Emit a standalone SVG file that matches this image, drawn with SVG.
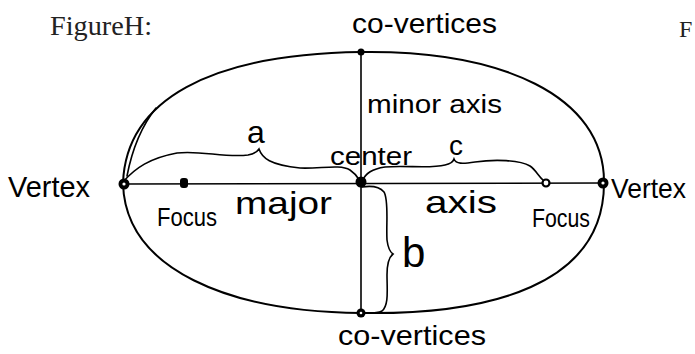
<svg xmlns="http://www.w3.org/2000/svg" width="695" height="354" viewBox="0 0 695 354">
<style>
.hw{font-family:"Liberation Sans","DejaVu Sans",sans-serif;fill:#000}
.ln{fill:none;stroke:#000;stroke-width:2;stroke-linecap:round;stroke-linejoin:round}
.thin{fill:none;stroke:#000;stroke-width:1.6;stroke-linecap:round}
.dot{fill:#000}
.hole{fill:#fff}
.fig{font-family:"Liberation Serif","DejaVu Serif",serif;fill:#222}
</style>
<rect width="695" height="354" fill="#fff"/>
<text class="fig" x="50" y="35" font-size="27" textLength="102" lengthAdjust="spacingAndGlyphs">FigureH:</text>
<text class="fig" x="679" y="37" font-size="24">F</text>
<g id="ellipse">
<path class="ln" d="M123,183 C126,100 210,54 361,52 C500,50 605,95 604,183 C604,285 490,315 361,313 C230,312 125,270 123,183"/>
<path class="thin" d="M127,176 C132,150 140,128 156,108"/>
</g>
<g id="connectors">
<line class="thin" x1="123" y1="184" x2="604" y2="183"/>
<line class="thin" x1="361" y1="52" x2="361" y2="313"/>
<path id="brace-a" class="thin" d="M123,182 C135,168 150,158 177,153 C200,150 225,158 248,155 C254,154 257,152 259,149 C262,158 270,165 300,168 C320,169 340,164 350,170 C356,174 358,178 360,181"/>
<path id="brace-c" class="thin" d="M362,181 C366,173 372,169 385,167 C405,165 430,169 445,165 C450,164 453,162 454,159 C456,164 462,164 475,162 C495,159 520,160 530,166 C536,170 538,176 544,181"/>
<path id="brace-b" class="thin" d="M362,187 C368,186 378,185 384,192 C389,200 386,225 387,240 C388,248 390,252 393,254 C389,257 387,262 387,275 C387,290 389,305 382,311 C376,314 368,313 362,313"/>
</g>
<g id="left-vertex"><circle class="dot" cx="124" cy="184" r="5.5"/><circle class="hole" cx="124" cy="184" r="1.6"/><text class="hw" x="8" y="197" font-size="30" textLength="82" lengthAdjust="spacingAndGlyphs">Vertex</text></g>
<g id="right-vertex"><circle class="dot" cx="603" cy="183" r="5.5"/><circle class="hole" cx="603" cy="183" r="1.6"/><text class="hw" x="611" y="198" font-size="28" textLength="75" lengthAdjust="spacingAndGlyphs">Vertex</text></g>
<g id="left-focus"><rect class="dot" x="180" y="178" width="8" height="10" rx="3"/><text class="hw" x="157" y="226" font-size="26" textLength="60" lengthAdjust="spacingAndGlyphs">Focus</text></g>
<g id="right-focus"><circle cx="546" cy="183" r="3.5" fill="#fff" stroke="#000" stroke-width="2.2"/><text class="hw" x="532" y="227" font-size="26" textLength="58" lengthAdjust="spacingAndGlyphs">Focus</text></g>
<g id="center"><circle class="dot" cx="361" cy="182" r="5.5"/><text class="hw" x="330" y="165" font-size="26" textLength="82" lengthAdjust="spacingAndGlyphs">center</text></g>
<g id="top-covertex"><circle class="dot" cx="361" cy="52" r="3.5"/><text class="hw" x="352" y="33" font-size="28" textLength="145" lengthAdjust="spacingAndGlyphs">co-vertices</text></g>
<g id="bottom-covertex"><circle class="dot" cx="361" cy="313" r="4.5"/><circle class="hole" cx="361" cy="313" r="1.3"/><text class="hw" x="338" y="345" font-size="28" textLength="148" lengthAdjust="spacingAndGlyphs">co-vertices</text></g>
<g id="labels">
<text class="hw" x="367" y="113" font-size="26" textLength="135" lengthAdjust="spacingAndGlyphs">minor axis</text>
<text class="hw" x="256" y="143" font-size="32" text-anchor="middle">a</text>
<text class="hw" x="456" y="155" font-size="28" text-anchor="middle">c</text>
<text class="hw" x="402" y="267" font-size="42">b</text>
<text class="hw" x="235" y="214" font-size="32" textLength="97" lengthAdjust="spacingAndGlyphs">major</text>
<text class="hw" x="425" y="213" font-size="32" textLength="72" lengthAdjust="spacingAndGlyphs">axis</text>
</g>
</svg>
